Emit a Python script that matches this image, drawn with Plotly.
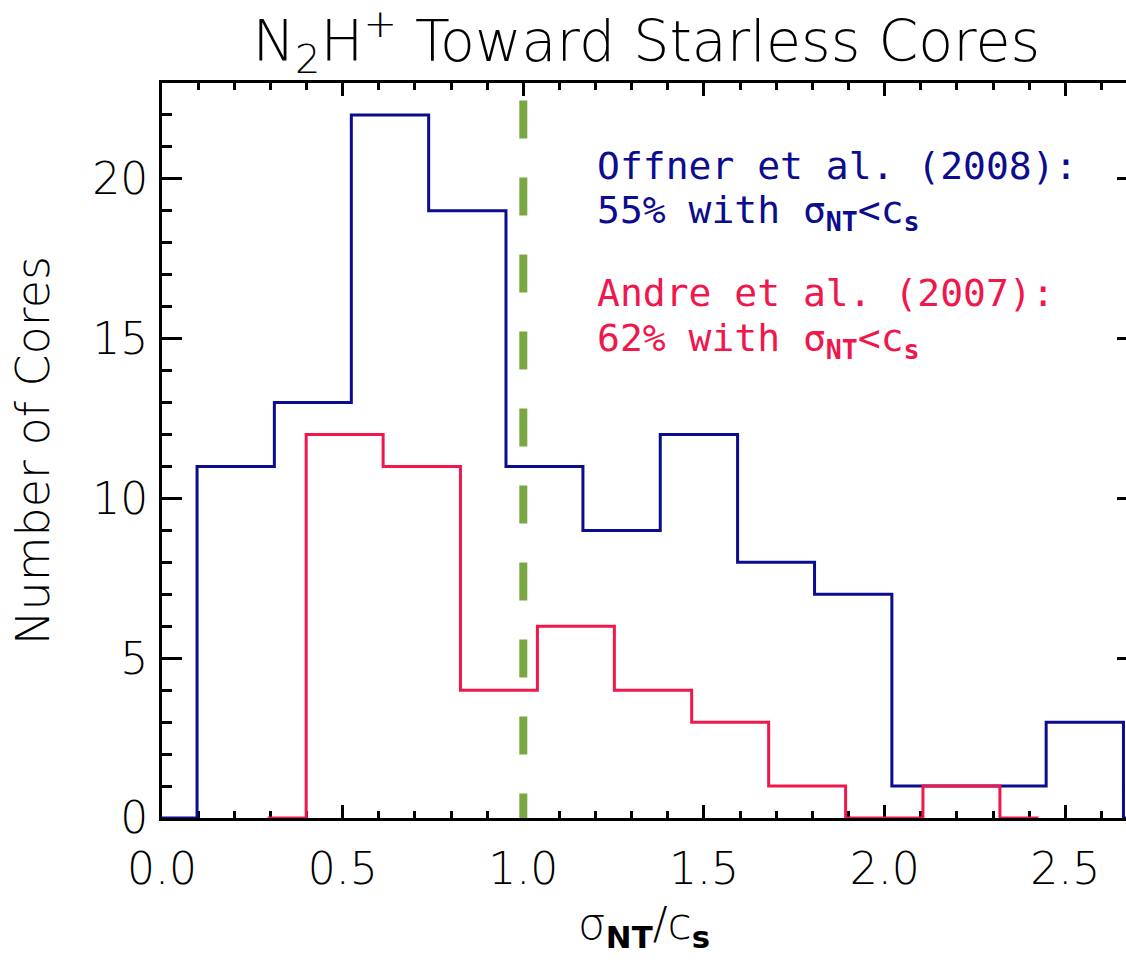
import plotly.graph_objects as go

# Histogram of sigma_NT / c_s for N2H+ starless cores
offner_edges = [0.097, 0.311, 0.524, 0.738, 0.952, 1.165, 1.379,
                1.593, 1.806, 2.020, 2.234, 2.447, 2.661]
offner_counts = [11, 13, 22, 19, 11, 9, 12, 8, 7, 1, 1, 3]

andre_edges = [0.399, 0.612, 0.826, 1.039, 1.252, 1.466, 1.679,
               1.892, 2.106, 2.319]
andre_counts = [12, 11, 4, 6, 4, 3, 1, 0, 1]

sonic_ratio = 1.0

x_ticks = [0.0, 0.5, 1.0, 1.5, 2.0, 2.5]
y_ticks = [0, 5, 10, 15, 20]

BLUE = "#0c0c8e"
RED = "#f0174c"
GREEN = "#7ba644"
FONT = "DejaVu Sans"
MONO = "DejaVu Sans Mono"


def step_xy(edges, counts):
    """Closed histogram outline with half-bin zero levels at both ends."""
    half = (edges[1] - edges[0]) / 2
    xs = [edges[0] - half] + list(edges) + [edges[-1] + half]
    ys = [0] + list(counts) + [0, 0]
    return xs, ys


fig = go.Figure()

bx, by = step_xy(offner_edges, offner_counts)
fig.add_trace(go.Scatter(x=bx, y=by, mode="lines", line_shape="hv",
                         line=dict(color=BLUE, width=3), showlegend=False,
                         hoverinfo="skip"))

rx, ry = step_xy(andre_edges, andre_counts)
fig.add_trace(go.Scatter(x=rx, y=ry, mode="lines", line_shape="hv",
                         line=dict(color=RED, width=3), showlegend=False,
                         hoverinfo="skip"))

fig.add_trace(go.Scatter(x=[sonic_ratio, sonic_ratio], y=[22.45, 0],
                         mode="lines", yaxis="y2",
                         line=dict(color=GREEN, width=8, dash="38px,39px"),
                         showlegend=False, hoverinfo="skip"))

tick_font = dict(family=FONT, size=44, color="black", weight=200)

fig.update_layout(
    width=1126, height=960,
    margin=dict(l=162, r=0, t=83, b=142),
    plot_bgcolor="white", paper_bgcolor="white",
    font=dict(family=FONT, color="black"),
    title=dict(text="N<sub>2</sub>H<sup>+</sup> Toward Starless Cores",
               font=dict(family=FONT, size=57, color="black", weight=200),
               x=0.574, xanchor="center", y=0.957, yanchor="middle"),
    xaxis=dict(range=[0, 2.668], tickvals=x_ticks,
               ticktext=[f"{v:.1f}" for v in x_ticks],
               ticks="inside", ticklen=13, tickwidth=2.5, tickcolor="black",
               minor=dict(dtick=0.1, ticks="inside", ticklen=7,
                          tickwidth=2.5, tickcolor="black"),
               showline=True, linewidth=3, linecolor="black", mirror="ticks",
               showgrid=False, zeroline=False, layer="below traces",
               tickfont=tick_font, ticklabelstandoff=10,
               title=dict(text="σ<sub><b>NT</b></sub>/c<sub><b>s</b></sub>",
                          font=dict(family=FONT, size=44, weight=200),
                          standoff=16)),
    yaxis=dict(range=[0, 23], tickvals=y_ticks,
               ticks="inside", ticklen=20, tickwidth=2.5, tickcolor="black",
               minor=dict(dtick=1, ticks="inside", ticklen=10,
                          tickwidth=2.5, tickcolor="black"),
               showline=True, linewidth=3, linecolor="black", mirror=False,
               showgrid=False, zeroline=False, layer="below traces",
               tickfont=tick_font, ticklabelstandoff=2,
               title=dict(text="Number of Cores",
                          font=dict(family=FONT, size=46, weight=200),
                          standoff=29)),
    yaxis2=dict(range=[0, 23], overlaying="y", side="right",
                tickvals=y_ticks, ticks="inside", ticklen=9, tickwidth=2.5,
                tickcolor="black", showticklabels=False, showline=False,
                showgrid=False, zeroline=False),
)

notes = [
    ("Offner et al. (2008):", BLUE, 166),
    ("55% with σ<sub><b>NT</b></sub><c<sub><b>s</b></sub>", BLUE, 213),
    ("Andre et al. (2007):", RED, 293),
    ("62% with σ<sub><b>NT</b></sub><c<sub><b>s</b></sub>", RED, 340),
]
for text, color, ypix in notes:
    fig.add_annotation(text=text, xref="paper", yref="paper",
                       x=(595 - 162) / 964, y=(818 - ypix) / 735,
                       xanchor="left", yanchor="middle", showarrow=False,
                       align="left",
                       font=dict(family=MONO, size=38, color=color))

fig.write_html("out.html")
